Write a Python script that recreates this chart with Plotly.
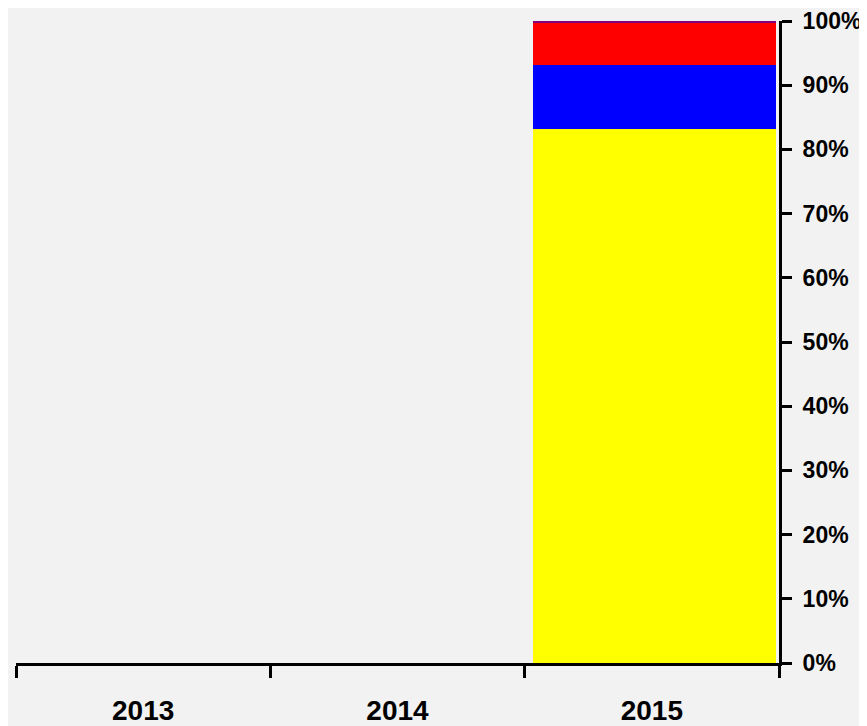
import plotly.graph_objects as go

years = ["2013", "2014", "2015"]
yellow = [None, None, 0.832]
blue = [None, None, 0.099]
red = [None, None, 0.066]
purple = [None, None, 0.003]

series = [
    ("Series A", yellow, "#ffff00"),
    ("Series B", blue, "#0000ff"),
    ("Series C", red, "#ff0000"),
    ("Series D", purple, "#800080"),
]

fig = go.Figure()
for name, vals, col in series:
    fig.add_trace(go.Bar(x=years, y=vals, name=name, marker=dict(color=col, line=dict(width=0)),
                         width=0.955, offset=-0.467))

font = "Liberation Sans, Arial, sans-serif"
fig.update_layout(
    barmode="stack",
    width=867, height=726,
    margin=dict(l=8, r=96, t=13, b=71, autoexpand=False),
    paper_bgcolor="#f2f2f2", plot_bgcolor="#f2f2f2",
    showlegend=False,
    xaxis=dict(
        type="category", categoryorder="array", categoryarray=years,
        range=[-0.5, 2.5], automargin=False,
        showline=True, linecolor="black", linewidth=3,
        ticks="outside", tickson="boundaries", ticklen=12, tickwidth=3, tickcolor="black",
        showgrid=False, zeroline=False,
        ticklabelstandoff=20,
        tickfont=dict(family=font, size=28, color="black", weight="bold"),
    ),
    yaxis=dict(
        side="right", range=[0, 1], dtick=0.1, tickformat=".0%", automargin=False,
        showline=True, linecolor="black", linewidth=3,
        ticks="outside", ticklen=10, tickwidth=3, tickcolor="black",
        showgrid=False, zeroline=False,
        ticklabelstandoff=6,
        tickfont=dict(family=font, size=23, color="black", weight="bold"),
    ),
)

fig.write_html("out.html")
